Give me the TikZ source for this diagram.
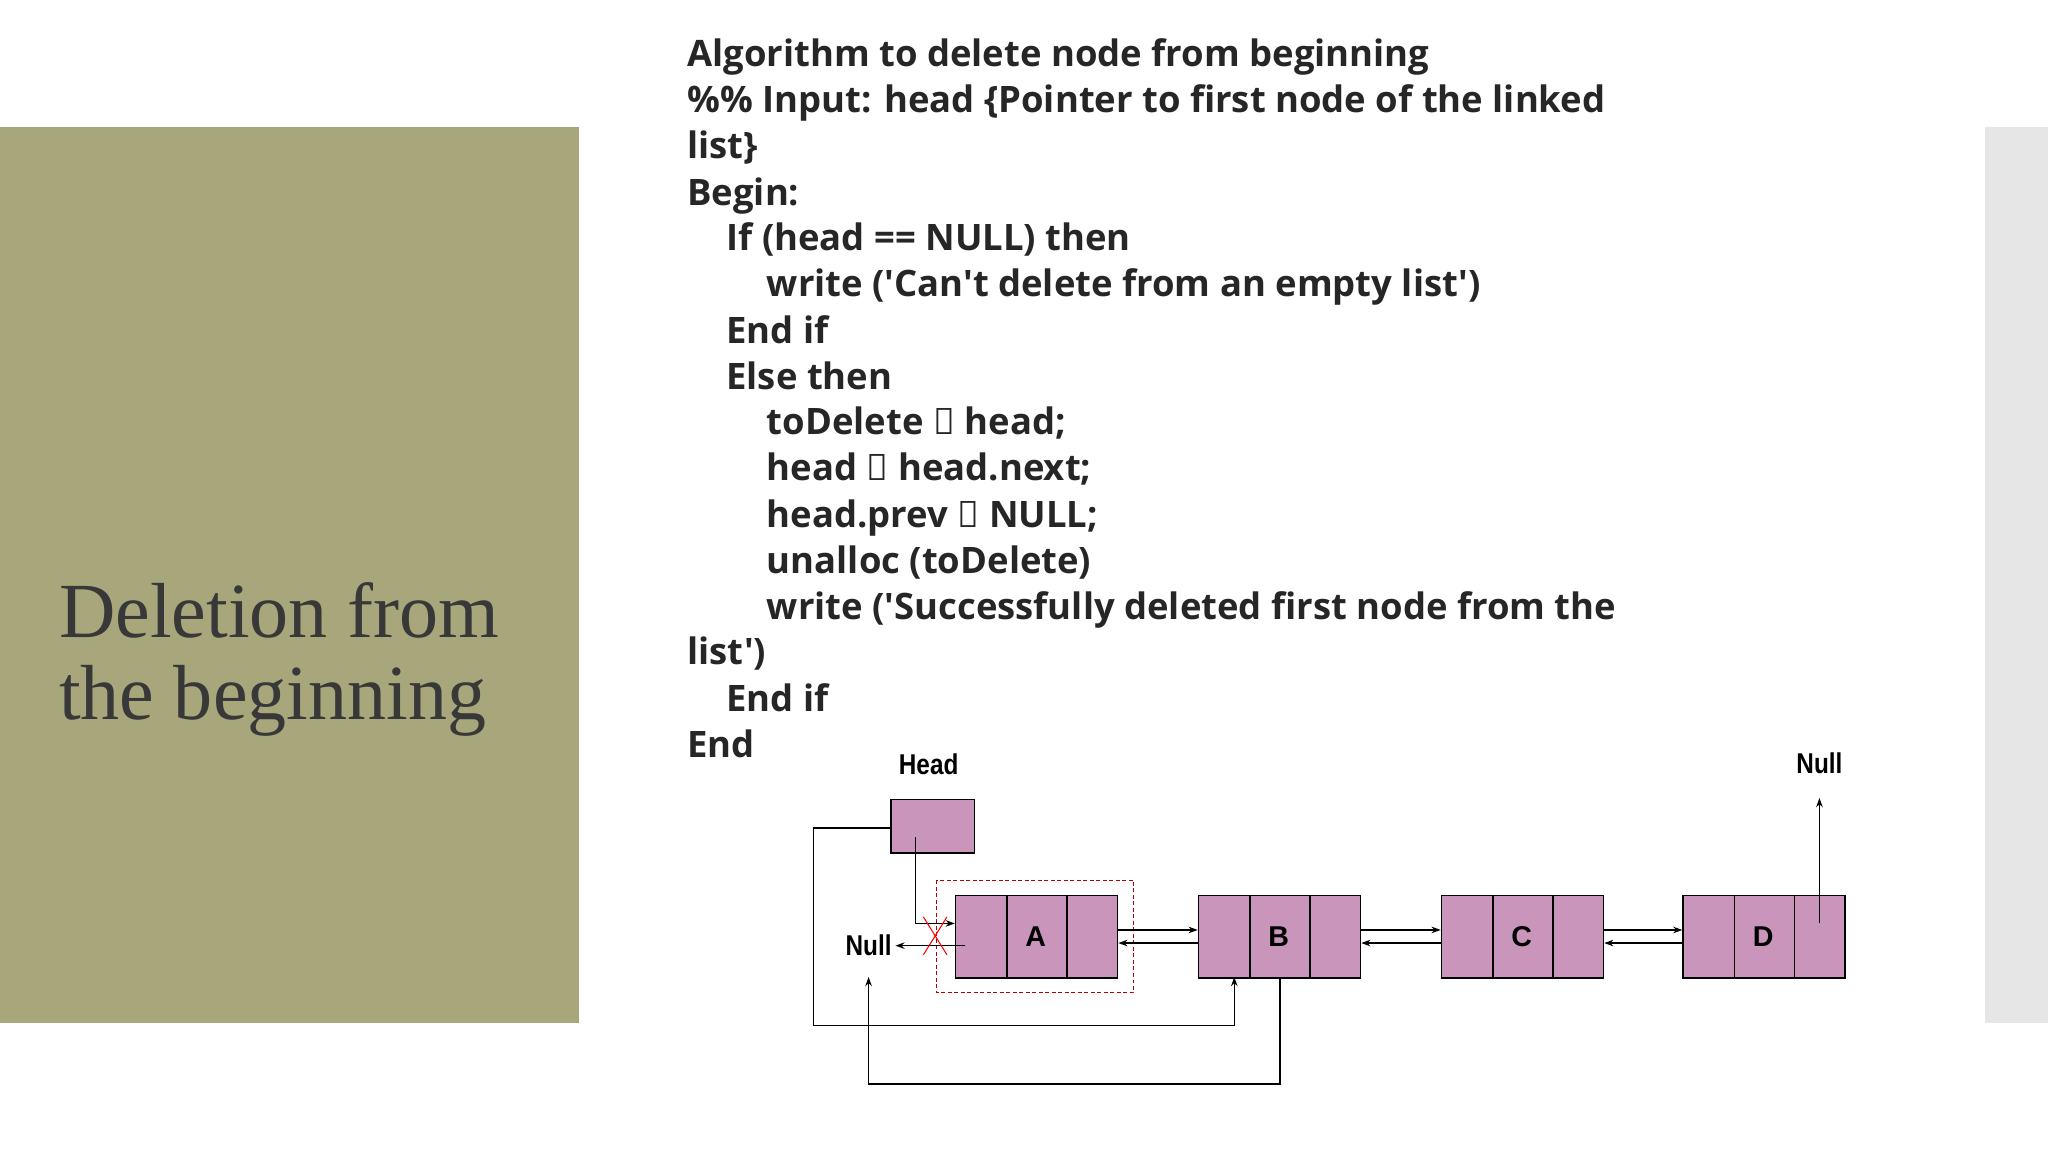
\documentclass[tikz,border=0pt]{standalone}
\usepackage{fontspec}
\setmainfont{Liberation Serif}
\newfontfamily\codef{Open Sans}
\newfontfamily\diaf{Liberation Sans}
\usetikzlibrary{arrows.meta}
\definecolor{olive}{HTML}{A8A77C}
\definecolor{side}{HTML}{E6E6E6}
\definecolor{nodefill}{HTML}{C995BB}
\definecolor{codec}{HTML}{262626}
\begin{document}
\begin{tikzpicture}[x=1bp,y=-1bp,
  cell/.style={draw=black,line width=1.2bp,fill=nodefill},
  code/.style={anchor=base west,inner sep=0,font=\codef\bfseries\fontsize{28}{30}\selectfont,text=codec},
  lbl/.style={font=\diaf\bfseries\fontsize{22}{24}\selectfont},
  conn/.style={line width=1bp,-{Stealth[length=7bp,width=5bp]}}]
\useasboundingbox (0,0) rectangle (1568,882);
\fill[white] (0,0) rectangle (1568,882);
\fill[olive] (0,97) rectangle (443,783);
\fill[side] (1520,97) rectangle (1568,783);
\node[anchor=base west,inner sep=0,text=black!78,font=\fontsize{60}{64}\selectfont] (t1) at (45,488) {Deletion from};
\node[anchor=base west,inner sep=0,text=black!78,font=\fontsize{60}{64}\selectfont] (t2) at (45,551) {the beginning};
% code
\node[code] (c1) at (526,51) {Algorithm to delete node from beginning};
\node[code] (c2) at (526,86) {\%\% Input: head \{Pointer to first node of the linked};
\node[code] (c3) at (526,121) {list\}};
\node[code] (c4) at (526,157) {Begin:};
\node[code] (c5) at (556,192) {If (head == NULL) then};
\node[code] (c6) at (587,227) {write ('Can't delete from an empty list')};
\node[code] (c7) at (556,263) {End if};
\node[code] (c8) at (556,298) {Else then};
\node[code] (c9) at (587,333) {toDelete \textleftarrow{} head;};
\node[code] (c10) at (587,368) {head \textleftarrow{} head.next;};
\node[code] (c11) at (587,404) {head.prev \textleftarrow{} NULL;};
\node[code] (c12) at (587,439) {unalloc (toDelete)};
\node[code] (c13) at (587,474) {write ('Successfully deleted first node from the};
\node[code] (c14) at (526,509) {list')};
\node[code] (c15) at (556,545) {End if};
\node[code] (c16) at (526,580) {End};
% diagram
\node[lbl,xscale=0.85] (headl) at (711,585) {Head};
\node[cell,minimum width=64bp,minimum height=41bp,inner sep=0] (head) at (714,632.5) {};
\draw[red!70!black,densely dashed,line width=1bp] (717,674) rectangle (868,760);
\foreach \n/\x in {A/731,B/917,C/1103,D/1288}{
  \node[cell,minimum width=124bp,minimum height=63bp,inner sep=0,anchor=north west] (\n) at (\x,685) {};
  \draw[line width=1bp] (\x+40,685) -- (\x+40,748) (\x+86,685) -- (\x+86,748);
  \node[lbl] (\n l) at (\x+62,717) {\n};
}
\draw[conn] (A.east|-0,712) -- (B.west|-0,712);
\draw[conn] (B.west|-0,722) -- (A.east|-0,722);
\draw[conn] (B.east|-0,712) -- (C.west|-0,712);
\draw[conn] (C.west|-0,722) -- (B.east|-0,722);
\draw[conn] (C.east|-0,712) -- (D.west|-0,712);
\draw[conn] (D.west|-0,722) -- (C.east|-0,722);
\draw[conn] (701,641) -- (701,707) -- (A.west|-0,707);
\node[lbl,xscale=0.85] (nullL) at (665,724) {Null};
\coordinate (aIn) at (739,724);
\draw[conn] (aIn) -- (nullL.east);
\draw[red,line width=0.8bp] (707,702) -- (725,731) (725,702) -- (707,731);
\draw[conn] (head.west|-0,634) -- (623,634) -- (623,785) -- (945,785) -- (945,748);
\draw[conn] (980,748) -- (980,830) -- (665,830) -- (665,748);
\node[lbl,xscale=0.85] (nullR) at (1393,584) {Null};
\coordinate (dp) at (1393,707);
\draw[conn] (dp) -- (1393,611);
\end{tikzpicture}
\end{document}
